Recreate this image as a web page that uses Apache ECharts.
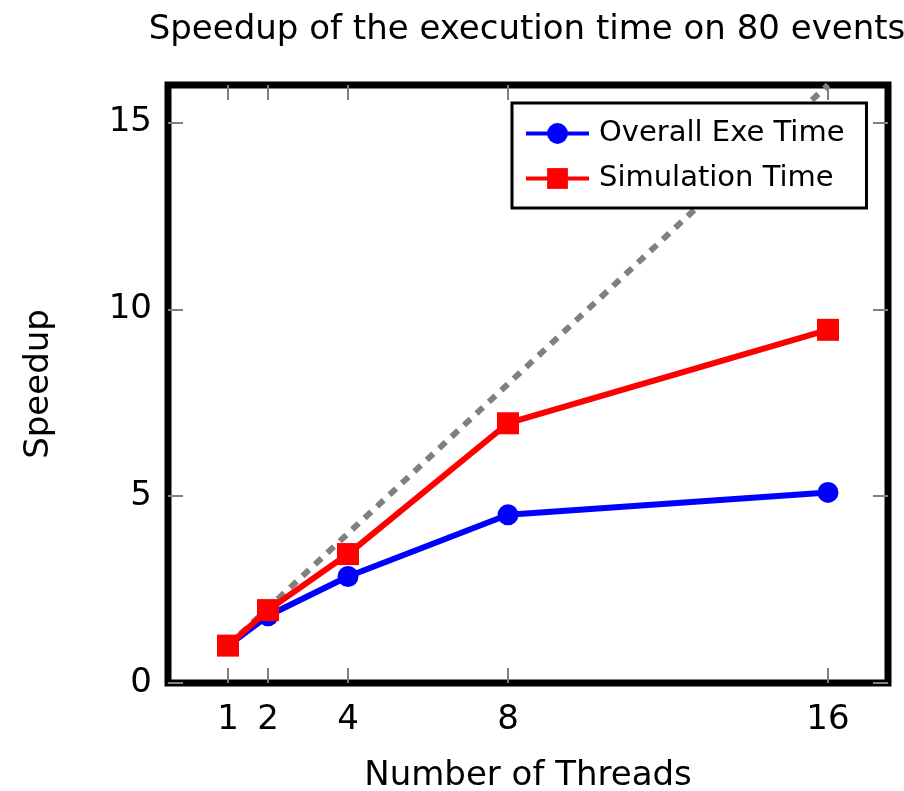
<!DOCTYPE html>
<html>
<head>
<meta charset="utf-8">
<script src="https://cdn.jsdelivr.net/npm/echarts@6/dist/echarts.min.js"></script>
<style>
  html, body { margin: 0; padding: 0; background: #fff; }
  #chart { width: 904px; height: 791px; }
</style>
</head>
<body>
<div id="chart"></div>
<script>
// Thread counts on the x axis and measured speedups
const threads = [1, 2, 4, 8, 16];
const overallExeSpeedup = [1, 1.8, 2.85, 4.5, 5.1];
const simulationSpeedup = [1, 1.95, 3.45, 6.95, 9.45];
// Ideal (linear) speedup reference line endpoints
const idealThreads = [1, 16];
const idealSpeedup = [1, 16];
const yTicks = [0, 5, 10, 15];

const FONT = '"DejaVu Sans", sans-serif';
const pairs = (xs, ys) => xs.map((x, i) => [x, ys[i]]);

const chart = echarts.init(document.getElementById('chart'), null, { renderer: 'canvas' });

const tickStyle = { show: true, inside: true, length: 15, lineStyle: { color: '#808080', width: 2 } };
const hiddenLine = { show: false, onZero: false };

chart.setOption({
  animation: false,
  title: {
    text: 'Speedup of the execution time on 80 events',
    left: 527,
    top: 13,
    padding: 0,
    textAlign: 'center',
    textStyle: { fontFamily: FONT, fontWeight: 'normal', fontSize: 34, color: '#000' }
  },
  grid: {
    left: 168, right: 904 - 888, top: 85, bottom: 791 - 683,
    outerBoundsMode: 'none',
    show: true, borderColor: '#000', borderWidth: 7, backgroundColor: 'transparent'
  },
  legend: {
    orient: 'vertical',
    left: 512, top: 103,
    data: ['Overall Exe Time', 'Simulation Time'],
    backgroundColor: '#fff',
    borderColor: '#000', borderWidth: 3,
    padding: [16, 22, 15, 12],
    itemGap: 16,
    itemWidth: 63, itemHeight: 26,
    lineStyle: { width: 4 },
    textStyle: { fontFamily: FONT, fontSize: 29, color: '#000', padding: [0, 0, 0, 5] }
  },
  xAxis: [
    {
      type: 'value', position: 'bottom', min: -0.5, max: 17.5,
      splitLine: { show: false },
      axisLine: hiddenLine,
      axisTick: Object.assign({ customValues: threads }, tickStyle),
      axisLabel: { customValues: threads, margin: 20, fontFamily: FONT, fontSize: 34, color: '#000' },
      name: 'Number of Threads', nameLocation: 'middle', nameGap: 76,
      nameTextStyle: { fontFamily: FONT, fontSize: 34, color: '#000' }
    },
    {
      type: 'value', position: 'top', min: -0.5, max: 17.5,
      splitLine: { show: false },
      axisLine: hiddenLine,
      axisTick: Object.assign({ customValues: threads }, tickStyle),
      axisLabel: { show: false }
    }
  ],
  yAxis: [
    {
      type: 'value', position: 'left', min: 0, max: 16,
      splitLine: { show: false },
      axisLine: hiddenLine,
      axisTick: Object.assign({ customValues: yTicks }, tickStyle),
      axisLabel: { customValues: yTicks, margin: 16, fontFamily: FONT, fontSize: 34, color: '#000' },
      name: 'Speedup', nameLocation: 'middle', nameRotate: 90, nameGap: 112,
      nameTextStyle: { fontFamily: FONT, fontSize: 34, color: '#000' }
    },
    {
      type: 'value', position: 'right', min: 0, max: 16,
      splitLine: { show: false },
      axisLine: hiddenLine,
      axisTick: Object.assign({ customValues: yTicks }, tickStyle),
      axisLabel: { show: false }
    }
  ],
  series: [
    {
      name: 'Ideal', type: 'line', xAxisIndex: 0, yAxisIndex: 0,
      data: pairs(idealThreads, idealSpeedup),
      showSymbol: false, symbol: 'none', z: 1,
      lineStyle: { color: '#808080', width: 6, type: [9, 8] }
    },
    {
      name: 'Overall Exe Time', type: 'line', xAxisIndex: 0, yAxisIndex: 0,
      data: pairs(threads, overallExeSpeedup),
      symbol: 'circle', symbolSize: 21, z: 2,
      itemStyle: { color: '#0000ff' },
      lineStyle: { color: '#0000ff', width: 6 }
    },
    {
      name: 'Simulation Time', type: 'line', xAxisIndex: 0, yAxisIndex: 0,
      data: pairs(threads, simulationSpeedup),
      symbol: 'rect', symbolSize: 22, z: 3,
      itemStyle: { color: '#ff0000' },
      lineStyle: { color: '#ff0000', width: 6 }
    }
  ]
});
</script>
</body>
</html>
